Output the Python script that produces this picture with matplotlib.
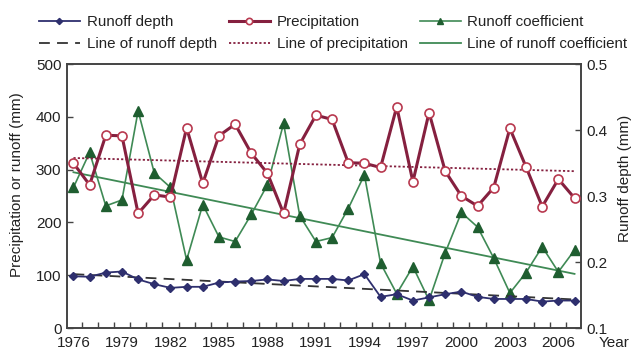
import matplotlib
matplotlib.use("Agg")
import matplotlib.pyplot as plt
import numpy as np

plt.rcParams['font.family'] = ['Liberation Sans', 'DejaVu Sans']

years = list(range(1976, 2008))
precipitation = [312, 271, 365, 364, 217, 252, 248, 379, 274, 364, 386, 331, 293, 217, 348, 403,
                 395, 313, 312, 304, 419, 277, 408, 297, 250, 231, 266, 378, 305, 230, 282, 246]
runoff_depth = [98, 97, 105, 107, 92, 83, 76, 78, 78, 86, 88, 89, 92, 89, 93, 93,
                93, 90, 102, 59, 64, 52, 58, 64, 69, 59, 55, 55, 55, 50, 52, 52]
runoff_coef = [0.313, 0.366, 0.285, 0.294, 0.429, 0.335, 0.313, 0.203, 0.287, 0.238, 0.231, 0.272,
               0.317, 0.410, 0.270, 0.231, 0.237, 0.281, 0.332, 0.198, 0.152, 0.193, 0.142, 0.214,
               0.275, 0.253, 0.206, 0.153, 0.184, 0.223, 0.185, 0.218]
trend_years = [1976, 2007]
trend_runoff = [102, 54]
trend_precip = [322, 297]
trend_coef = [0.336, 0.182]
year_labels = list(range(1976, 2007, 3))

c_prec = '#85203f'
c_prec_edge = '#b8394f'
c_rd = '#2e2f6e'
c_rc = '#3f8a55'
c_rc_m = '#1f5e30'
c_spine = '#444444'

fig = plt.figure(figsize=(6.34, 3.53), dpi=100)
ax = fig.add_axes([67/634, 1-328/353, (581-67)/634, (328-64)/353])
ax2 = ax.twinx()

l1, = ax.plot(years, runoff_depth, color=c_rd, lw=1.3, marker='D', ms=4.5, mfc=c_rd, mec=c_rd, zorder=3)
l2, = ax.plot(years, precipitation, color=c_prec, lw=2.2, marker='o', ms=6.5, mfc='white', mec=c_prec_edge, mew=1.2, zorder=3)
l4, = ax.plot(trend_years, trend_runoff, color='#333333', lw=1.3, ls=(0, (6, 4)), zorder=2)
l5, = ax.plot(trend_years, trend_precip, color=c_prec, lw=1.3, ls=(0, (1.2, 1.2)), zorder=2)
l3, = ax2.plot(years, runoff_coef, color=c_rc, lw=1.2, marker='^', ms=7, mfc=c_rc_m, mec=c_rc_m, zorder=3)
l6, = ax2.plot(trend_years, trend_coef, color=c_rc, lw=1.3, zorder=2)

ax.set_zorder(ax2.get_zorder() + 1)
ax.patch.set_visible(False)

ax.set_xlim(1975.6, 2007.4)
ax.set_ylim(0, 500)
ax2.set_ylim(0.1, 0.5)
ax.set_yticks([0, 100, 200, 300, 400, 500])
ax2.set_yticks([0.1, 0.2, 0.3, 0.4, 0.5])
ax2.set_yticklabels(['0.1', '0.2', '0.3', '0.4', '0.5'])
ax.set_xticks(year_labels)
ax.set_xticklabels([str(y) for y in year_labels])
ax.set_xticks(np.arange(1976.5, 2007, 1.0), minor=True)
ax.tick_params(axis='x', which='major', length=0, labelsize=11, pad=6, colors='#222222')
ax.tick_params(axis='x', which='minor', direction='in', length=4, width=1, color=c_spine)
ax.tick_params(axis='y', which='major', direction='in', length=4, width=1, labelsize=11, pad=4, color=c_spine, labelcolor='#222222')
ax2.tick_params(axis='y', which='major', direction='in', length=4, width=1, labelsize=11, pad=4, color=c_spine, labelcolor='#222222')
for a in (ax, ax2):
    for s in a.spines.values():
        s.set_color(c_spine)
        s.set_linewidth(1.2)

fig.text(17/634, 1-185/353, 'Precipitation or runoff (mm)', rotation=90, ha='center', va='center', fontsize=11, color='#222222')
fig.text(625/634, 1-178/353, 'Runoff depth (mm)', rotation=90, ha='center', va='center', fontsize=11, color='#222222')
fig.text(614/634, 1-343/353, 'Year', ha='center', va='center', fontsize=11, color='#222222')

handles = [l1, l4, l2, l5, l3, l6]
labels = ['Runoff depth', 'Line of runoff depth', 'Precipitation', 'Line of precipitation',
          'Runoff coefficient', 'Line of runoff coefficient']
leg = fig.legend(handles, labels, ncol=3, loc='upper left', bbox_to_anchor=(39/634, 1-15/353),
                 frameon=False, fontsize=10.9, handlelength=2.7, handletextpad=0.45,
                 columnspacing=0.8, labelspacing=0.55, borderpad=0, borderaxespad=0, markerscale=0.7)
for t in leg.get_texts():
    t.set_color('#222222')

fig.savefig('out.png', dpi=100)
